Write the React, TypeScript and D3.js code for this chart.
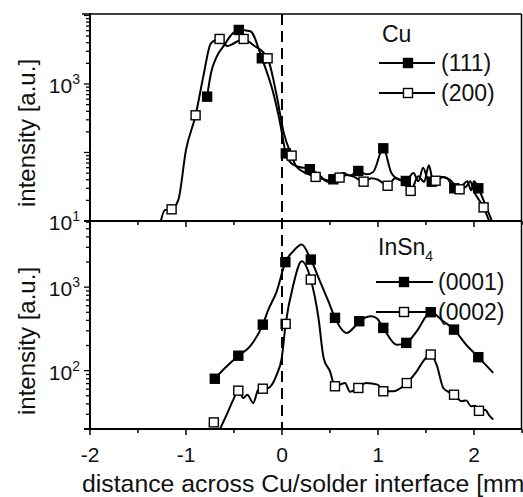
import React from "react";
import * as d3 from "d3";

type P = [number, number];

// ---- Top panel: Cu ----
const cu111Line: P[] = [
  [-0.78, 653], [-0.74, 1430], [-0.68, 2510], [-0.6, 3720], [-0.52, 5370], [-0.45, 6140],
  [-0.33, 5900], [-0.21, 2370], [-0.09, 731], [-0.02, 270], [0.04, 97], [0.1, 69], [0.17, 62],
  [0.29, 57], [0.39, 47], [0.47, 37.5], [0.535, 40.6], [0.64, 50], [0.71, 46], [0.795, 53.7],
  [0.88, 48], [0.95, 52], [1.055, 115], [1.14, 50], [1.22, 40], [1.29, 38.4], [1.37, 50],
  [1.42, 38], [1.47, 60], [1.52, 40], [1.56, 37.5], [1.66, 44], [1.72, 42], [1.795, 30],
  [1.87, 32], [1.93, 38], [1.97, 28], [2.0, 38], [2.045, 30], [2.12, 17], [2.2, 9],
];
const cu111Markers: P[] = [
  [-0.78, 653], [-0.45, 6140], [-0.21, 2370], [0.04, 97], [0.29, 57], [0.535, 40.6],
  [0.795, 53.7], [1.055, 115], [1.29, 38.4], [1.56, 37.5], [1.795, 30], [2.045, 30],
];
const cu200Line: P[] = [
  [-1.27, 9], [-1.22, 14.5], [-1.15, 14.8], [-1.08, 20.3], [-1.0, 109], [-0.9, 349],
  [-0.82, 1280], [-0.74, 3930], [-0.65, 4540], [-0.57, 3590], [-0.5, 3930], [-0.4, 4540],
  [-0.3, 3700], [-0.15, 2370], [-0.06, 731], [0.02, 190], [0.1, 90], [0.15, 62], [0.25, 50],
  [0.35, 44], [0.45, 40], [0.52, 37.5], [0.6, 43], [0.68, 47], [0.75, 44], [0.85, 37.5],
  [0.93, 42], [1.0, 40], [1.1, 32.7], [1.18, 42], [1.26, 37.5], [1.34, 27.5], [1.42, 45],
  [1.48, 37], [1.53, 65], [1.57, 40], [1.6, 38.7], [1.68, 44], [1.75, 40], [1.85, 29],
  [1.92, 32], [1.96, 38], [2.0, 27], [2.1, 15.8], [2.17, 9],
];
const cu200Markers: P[] = [
  [-1.15, 14.8], [-0.9, 349], [-0.65, 4540], [-0.4, 4540], [-0.15, 2370], [0.1, 90],
  [0.35, 44], [0.6, 43], [0.85, 37.5], [1.1, 32.7], [1.34, 27.5], [1.6, 38.7], [1.85, 29],
  [2.1, 15.8],
];

// ---- Bottom panel: InSn4 ----
const in0001Line: P[] = [
  [-0.7, 80], [-0.61, 103], [-0.455, 151], [-0.333, 195], [-0.2, 356], [-0.142, 537],
  [-0.055, 891], [0.035, 1995], [0.118, 2700], [0.205, 3240], [0.3, 2140], [0.396, 1175],
  [0.483, 679], [0.552, 429], [0.674, 283], [0.76, 340], [0.805, 391], [0.934, 449],
  [0.99, 420], [1.055, 325], [1.194, 204], [1.295, 215], [1.403, 296], [1.549, 501],
  [1.68, 391], [1.792, 310], [1.917, 205], [2.045, 145], [2.2, 94],
];
const in0001Markers: P[] = [
  [-0.7, 80], [-0.455, 151], [-0.2, 356], [0.035, 1995], [0.3, 2140], [0.552, 429],
  [0.805, 391], [1.055, 325], [1.295, 215], [1.549, 501], [1.792, 310], [2.045, 145],
];
const in0002Line: P[] = [
  [-0.65, 19.5], [-0.576, 29.7], [-0.507, 44.9], [-0.455, 57.6], [-0.403, 47.1], [-0.361, 51.5],
  [-0.299, 41], [-0.247, 59.2], [-0.2, 60.8], [-0.142, 62.1], [-0.055, 89.5], [-0.003, 141],
  [0.038, 363], [0.118, 1070], [0.205, 2040], [0.3, 1233], [0.38, 427], [0.434, 141],
  [0.5, 98], [0.552, 65], [0.656, 71], [0.708, 56], [0.795, 62], [0.875, 71], [0.996, 68],
  [1.055, 56.6], [1.16, 56.6], [1.3, 71], [1.403, 98], [1.472, 130], [1.549, 156],
  [1.611, 117], [1.68, 62], [1.73, 56], [1.792, 51.5], [1.872, 43], [1.92, 44], [1.969, 37.4],
  [2.01, 38], [2.052, 33], [2.115, 34], [2.16, 29], [2.2, 26],
];
const in0002Markers: P[] = [
  [-0.71, 24], [-0.455, 57.6], [-0.2, 60.8], [0.038, 363], [0.3, 1233], [0.552, 65],
  [0.795, 62], [1.055, 56.6], [1.3, 71], [1.549, 156], [1.792, 51.5], [2.052, 33],
];

const xTickLabels = [-2, -1, 0, 1, 2];
const topYLabels = [
  { v: 10, exp: "1" },
  { v: 1000, exp: "3" },
];
const botYLabels = [
  { v: 100, exp: "2" },
  { v: 1000, exp: "3" },
];
const cuLegend = ["(111)", "(200)"];
const inLegend = ["(0001)", "(0002)"];

const FONT = "'Liberation Sans', Arial, Helvetica, sans-serif";

export default function App() {
  const W = 523, H = 497;
  const L = 90, R = 521.5, T = 14, MID = 221, B = 429;
  const x = d3.scaleLinear().domain([-2, 2.5]).range([L, 522]);
  const yT = d3.scaleLog().domain([10, 10500]).range([MID, T]);
  const yB = d3.scaleLog().domain([20, 6200]).range([B, MID]);

  const lineT = d3.line<P>().x((d) => x(d[0])).y((d) => yT(Math.max(d[1], 1))).curve(d3.curveMonotoneX);
  const lineB = d3.line<P>().x((d) => x(d[0])).y((d) => yB(Math.max(d[1], 1))).curve(d3.curveMonotoneX);

  const ms = 9;
  const marker = (cx: number, cy: number, filled: boolean, key: string) => (
    <rect key={key} x={cx - ms / 2} y={cy - ms / 2} width={ms} height={ms}
      fill={filled ? "#000" : "#fff"} stroke="#000" strokeWidth={1.4} />
  );

  const xMinor = d3.range(-2, 2.51, 0.5);
  const isInt = (v: number) => Math.abs(v - Math.round(v)) < 1e-6;
  const logMajor = (v: number) => isInt(Math.log10(v));

  const yTicks = (scale: any, key: string) =>
    scale.ticks().map((v: number, i: number) => {
      const yy = scale(v);
      const len = logMajor(v) ? 6 : 4;
      return <line key={key + i} x1={L - len} x2={L} y1={yy} y2={yy} stroke="#000" strokeWidth={1.3} />;
    });

  const xTicks = (y0: number, key: string) =>
    xMinor.map((v, i) => {
      const len = isInt(v) ? 6 : 4;
      return <line key={key + i} x1={x(v)} x2={x(v)} y1={y0} y2={y0 + len} stroke="#000" strokeWidth={1.5} />;
    });

  const yLabel = (scale: any, items: { v: number; exp: string }[], key: string) =>
    items.map((it, i) => (
      <text key={key + i} x={80} y={scale(it.v) + 9} textAnchor="end" fontFamily={FONT} fontSize={21} fill="#111">
        10<tspan fontSize={14} dy={-9}>{it.exp}</tspan>
      </text>
    ));

  return (
    <svg width={W} height={H} style={{ position: "absolute", left: 0, top: 0, background: "#fff" }}>
      <defs>
        <clipPath id="clipT"><rect x={L} y={T} width={R - L} height={MID - T} /></clipPath>
        <clipPath id="clipB"><rect x={L} y={MID} width={R - L} height={B - MID} /></clipPath>
      </defs>
      <rect x={0} y={0} width={W} height={H} fill="#fff" />

      {/* data top */}
      <g clipPath="url(#clipT)">
        <path d={lineT(cu200Line) || ""} fill="none" stroke="#000" strokeWidth={2} />
        <path d={lineT(cu111Line) || ""} fill="none" stroke="#000" strokeWidth={2} />
        {cu111Markers.map((d, i) => marker(x(d[0]), yT(d[1]), true, "t1" + i))}
        {cu200Markers.map((d, i) => marker(x(d[0]), yT(d[1]), false, "t2" + i))}
      </g>

      {/* data bottom */}
      <g clipPath="url(#clipB)">
        <path d={lineB(in0002Line) || ""} fill="none" stroke="#000" strokeWidth={2} />
        <path d={lineB(in0001Line) || ""} fill="none" stroke="#000" strokeWidth={2} />
        {in0001Markers.map((d, i) => marker(x(d[0]), yB(d[1]), true, "b1" + i))}
        {in0002Markers.map((d, i) => marker(x(d[0]), yB(d[1]), false, "b2" + i))}
      </g>

      {/* dashed interface line */}
      <line x1={x(0)} x2={x(0)} y1={T} y2={B} stroke="#000" strokeWidth={2} strokeDasharray="11,6" />

      {/* frame */}
      <line x1={L} x2={L} y1={T - 1} y2={B + 1} stroke="#000" strokeWidth={2} />
      <line x1={R} x2={R} y1={T} y2={B} stroke="#000" strokeWidth={1.5} />
      <line x1={L - 8} x2={R} y1={T} y2={T} stroke="#000" strokeWidth={1.5} />
      <line x1={L - 6} x2={R} y1={MID} y2={MID} stroke="#000" strokeWidth={2} />
      <line x1={L - 6} x2={R} y1={B} y2={B} stroke="#000" strokeWidth={2} />

      {yTicks(yT, "yt")}
      {yTicks(yB, "yb")}
      {xTicks(MID, "xt")}
      {xTicks(B, "xb")}

      {yLabel(yT, topYLabels, "lt")}
      {yLabel(yB, botYLabels, "lb")}

      {xTickLabels.map((v, i) => (
        <text key={"xl" + i} x={x(v)} y={462} textAnchor="middle" fontFamily={FONT} fontSize={21} fill="#111">
          {v}
        </text>
      ))}

      <text x={82} y={492} fontFamily={FONT} fontSize={24.8} fill="#111">
        distance across Cu/solder interface [mm]
      </text>
      <text transform="translate(35,133) rotate(-90)" textAnchor="middle" fontFamily={FONT} fontSize={24} fill="#111">
        intensity [a.u.]
      </text>
      <text transform="translate(35,341) rotate(-90)" textAnchor="middle" fontFamily={FONT} fontSize={24} fill="#111">
        intensity [a.u.]
      </text>

      {/* legend top */}
      <text x={382} y={42} fontFamily={FONT} fontSize={23} fill="#111">Cu</text>
      {cuLegend.map((t, i) => {
        const yy = 63 + i * 30;
        return (
          <g key={"lg1" + i}>
            <line x1={379} x2={435} y1={yy} y2={yy} stroke="#000" strokeWidth={2} />
            {marker(408, yy, i === 0, "lm1" + i)}
            <text x={441} y={yy + 8} fontFamily={FONT} fontSize={23} fill="#111">{t}</text>
          </g>
        );
      })}

      {/* legend bottom */}
      <text x={378} y={255} fontFamily={FONT} fontSize={23} fill="#111">
        InSn<tspan fontSize={14} dy={6}>4</tspan>
      </text>
      {inLegend.map((t, i) => {
        const yy = 282 + i * 30;
        return (
          <g key={"lg2" + i}>
            <line x1={376} x2={433} y1={yy} y2={yy} stroke="#000" strokeWidth={2} />
            {marker(404, yy, i === 0, "lm2" + i)}
            <text x={438} y={yy + 8} fontFamily={FONT} fontSize={23} fill="#111">{t}</text>
          </g>
        );
      })}
    </svg>
  );
}
